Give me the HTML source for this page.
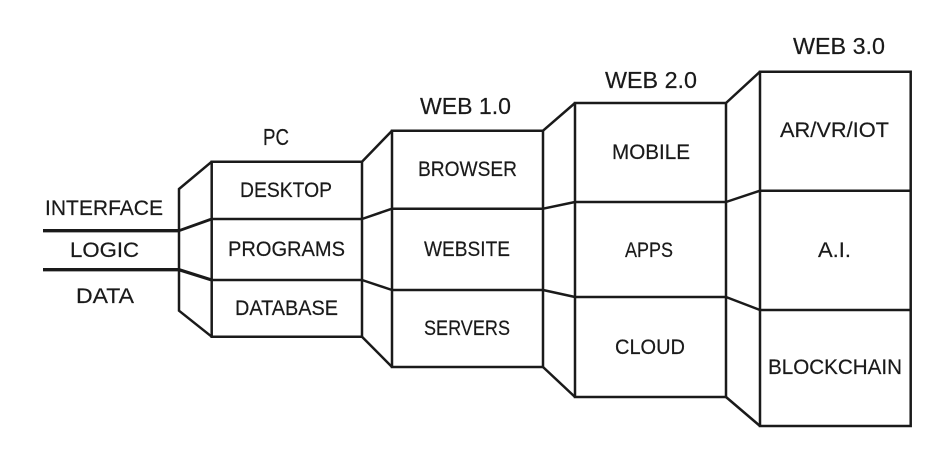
<!DOCTYPE html>
<html>
<head>
<meta charset="utf-8">
<style>
html,body{margin:0;padding:0;background:#fff;width:950px;height:452px;overflow:hidden}
svg{display:block}
text{font-family:"Liberation Sans",sans-serif;fill:#1a1a1a;font-size:21px;stroke:#1a1a1a;stroke-width:.2}
.h{font-size:23px}
path,line{stroke:#1a1a1a;fill:none;stroke-width:2.5;stroke-linejoin:miter}
</style>
</head>
<body>
<svg width="950" height="452" viewBox="0 0 950 452" xmlns="http://www.w3.org/2000/svg">
<!-- thick lines -->
<line x1="43" y1="230.7" x2="179" y2="230.7" style="stroke-width:3.4"/>
<line x1="43" y1="269.7" x2="179" y2="269.7" style="stroke-width:3.4"/>
<!-- PC -->
<path d="M211.7 161.7H362V336.7H211.7Z"/>
<path d="M211.7 219H362M211.7 280H362"/>
<path d="M211.7 161.7L179 189V310.7L211.7 336.7"/>
<path d="M179 230.7L211.7 219" style="stroke-width:2.8"/>
<path d="M179 269.7L211.7 280" style="stroke-width:3.2"/>
<!-- connector PC to WEB 1.0 -->
<path d="M362 161.7L392 130.7M362 219L392 208.7M362 280L392 290M362 336.7L392 367"/>
<!-- WEB 1.0 -->
<path d="M392 130.7H543V367H392Z"/>
<path d="M392 208.7H543M392 290H543"/>
<!-- connector WEB 1.0 to WEB 2.0 -->
<path d="M543 130.7L575 103M543 208.7L575 202M543 290L575 297M543 367L575 397"/>
<!-- WEB 2.0 -->
<path d="M575 103H726V397H575Z"/>
<path d="M575 202H726M575 297H726"/>
<!-- connector WEB 2.0 to WEB 3.0 -->
<path d="M726 103L760 71.7M726 202L760 190.7M726 297L760 310M726 397L760 426"/>
<!-- WEB 3.0 -->
<path d="M760 71.7H910.7V426H760Z"/>
<path d="M760 190.7H910.7M760 310H910.7"/>
<!-- labels -->
<text x="45" y="215" textLength="118" lengthAdjust="spacingAndGlyphs">INTERFACE</text>
<text x="70" y="257" textLength="69" lengthAdjust="spacingAndGlyphs">LOGIC</text>
<text x="76" y="303" textLength="58" lengthAdjust="spacingAndGlyphs">DATA</text>
<text class="h" x="263" y="145" textLength="26" lengthAdjust="spacingAndGlyphs">PC</text>
<text x="240" y="197" textLength="92" lengthAdjust="spacingAndGlyphs">DESKTOP</text>
<text x="228" y="256" textLength="117" lengthAdjust="spacingAndGlyphs">PROGRAMS</text>
<text x="235" y="315" textLength="103" lengthAdjust="spacingAndGlyphs">DATABASE</text>
<text class="h" x="420" y="114" textLength="91" lengthAdjust="spacingAndGlyphs">WEB 1.0</text>
<text x="418" y="176" textLength="99" lengthAdjust="spacingAndGlyphs">BROWSER</text>
<text x="424" y="256" textLength="86" lengthAdjust="spacingAndGlyphs">WEBSITE</text>
<text x="424" y="335" textLength="86" lengthAdjust="spacingAndGlyphs">SERVERS</text>
<text class="h" x="605" y="88" textLength="92" lengthAdjust="spacingAndGlyphs">WEB 2.0</text>
<text x="612" y="159" textLength="78" lengthAdjust="spacingAndGlyphs">MOBILE</text>
<text x="625" y="257" textLength="48" lengthAdjust="spacingAndGlyphs">APPS</text>
<text x="615" y="354" textLength="70" lengthAdjust="spacingAndGlyphs">CLOUD</text>
<text class="h" x="793" y="54" textLength="92" lengthAdjust="spacingAndGlyphs">WEB 3.0</text>
<text x="780" y="137" textLength="109" lengthAdjust="spacingAndGlyphs">AR/VR/IOT</text>
<text x="818" y="257" textLength="33" lengthAdjust="spacingAndGlyphs">A.I.</text>
<text x="768" y="374" textLength="134" lengthAdjust="spacingAndGlyphs">BLOCKCHAIN</text>
</svg>
</body>
</html>
